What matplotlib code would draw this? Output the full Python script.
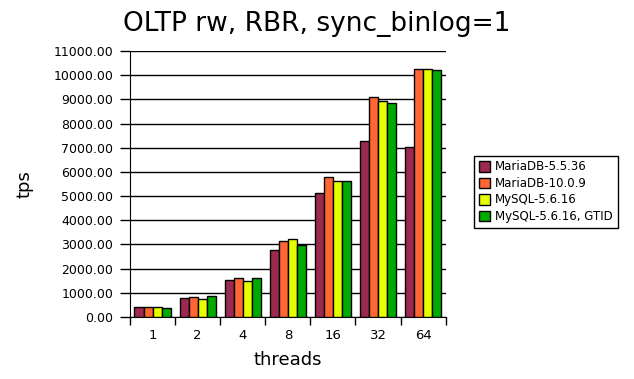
import numpy as np
import matplotlib.pyplot as plt

# Data
threads = ['1', '2', '4', '8', '16', '32', '64']
mariadb_55 = [400, 770, 1515, 2755, 5115, 7265, 7015]
mariadb_10 = [400, 810, 1600, 3130, 5775, 9110, 10270]
mysql_56 = [400, 730, 1475, 3210, 5640, 8920, 10270]
mysql_56_gtid = [360, 855, 1600, 2990, 5640, 8835, 10200]

series = [
    ('MariaDB-5.5.36', mariadb_55, '#9c2a50'),
    ('MariaDB-10.0.9', mariadb_10, '#ff6633'),
    ('MySQL-5.6.16', mysql_56, '#e5ff00'),
    ('MySQL-5.6.16, GTID', mysql_56_gtid, '#00aa00'),
]

fig = plt.figure(figsize=(6.34, 3.79), dpi=100)
ax = fig.add_axes([0.205, 0.1636, 0.498, 0.7018])

x = np.arange(len(threads))
w = 0.2
for i, (name, vals, color) in enumerate(series):
    ax.bar(x + (i - 1.5) * w, vals, width=w, color=color, edgecolor='black',
           linewidth=1, label=name, zorder=3)

ax.set_ylim(0, 11000)
ax.set_xlim(-0.5, len(threads) - 0.5)
ax.set_yticks(np.arange(0, 11001, 1000))
ax.set_yticklabels([f'{v:.2f}' for v in np.arange(0, 11001, 1000)], fontsize=9)
ax.yaxis.grid(True, color='black', linewidth=1, zorder=0)

# category labels centred, ticks on the boundaries
ax.set_xticks(x)
ax.set_xticklabels(threads, fontsize=9.5)
ax.tick_params(axis='x', length=0, pad=9)
ax.set_xticks(np.arange(-0.5, len(threads), 1), minor=True)
ax.tick_params(axis='x', which='minor', length=6, width=1)
ax.tick_params(axis='y', length=7, width=1, pad=5)

ax.spines['top'].set_visible(False)
ax.spines['right'].set_visible(False)

ax.set_xlabel('threads', fontsize=13, labelpad=6)
ax.set_ylabel('tps', fontsize=13, labelpad=14)
fig.suptitle('OLTP rw, RBR, sync_binlog=1', fontsize=19, y=0.97)

leg = ax.legend(loc='upper left', bbox_to_anchor=(0.738, 0.605), bbox_transform=fig.transFigure,
                fontsize=8.5, fancybox=False, edgecolor='black', framealpha=1,
                handlelength=1.0, handleheight=1.0, handletextpad=0.4, borderpad=0.4,
                labelspacing=0.3)
leg.get_frame().set_linewidth(1)

fig.savefig('out.png', dpi=100)
